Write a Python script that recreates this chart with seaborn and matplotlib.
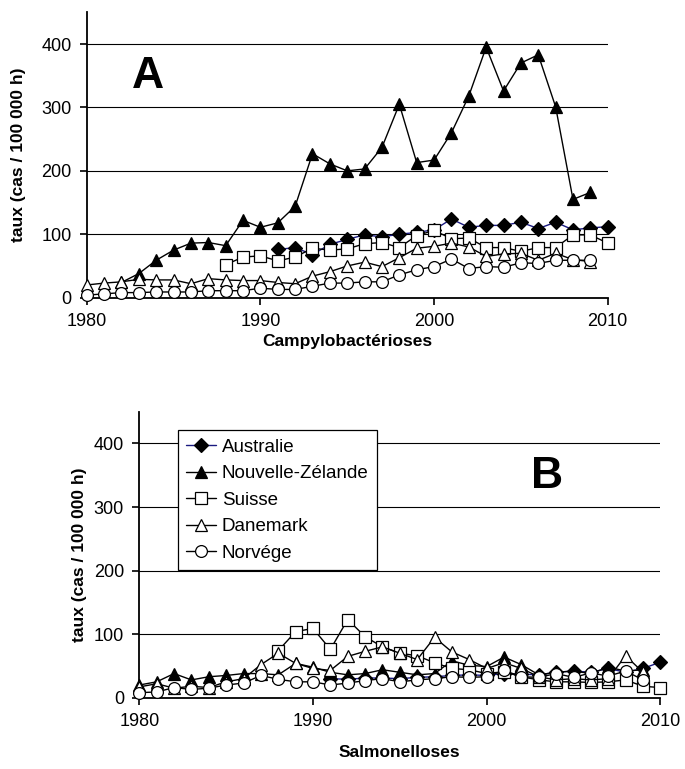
import numpy as np
import pandas as pd
import matplotlib
matplotlib.use("Agg")
import matplotlib.pyplot as plt
import seaborn as sns

# ---------------- data ----------------
countries = ["Australie", "Nouvelle-Zélande", "Suisse", "Danemark", "Norvége"]

# Campylobactérioses
camp_aus_years = list(range(1991, 2011))
camp_aus = [76, 79, 68, 84, 92, 99, 96, 100, 103, 107, 124, 111, 114, 114, 119, 109, 119, 107, 110, 112]
camp_nz_years = list(range(1982, 2010))
camp_nz = [24, 38, 59, 75, 86, 87, 82, 122, 111, 118, 144, 227, 211, 200, 203, 237, 305, 213, 217, 260,
           318, 395, 326, 370, 383, 301, 155, 166]
camp_sui_years = list(range(1988, 2011))
camp_sui = [52, 64, 66, 58, 64, 78, 75, 77, 85, 87, 79, 98, 106, 93, 94, 79, 79, 73, 79, 79, 99, 99, 86]
camp_dan_years = list(range(1980, 2010))
camp_dan = [20, 23, 25, 29, 28, 28, 22, 30, 28, 27, 27, 24, 22, 34, 41, 50, 56, 49, 63, 78, 81, 86, 80, 65,
            69, 70, 59, 70, 60, 57]
camp_nor_years = list(range(1980, 2010))
camp_nor = [4, 6, 8, 8, 9, 9, 9, 11, 11, 11, 15, 13, 13, 18, 23, 23, 25, 25, 36, 44, 49, 61, 46, 49, 48, 55,
            54, 59, 59, 59]

# Salmonelloses
salm_aus_years = list(range(1991, 2011))
salm_aus = [30, 29, 31, 31, 30, 32, 33, 35, 36, 35, 38, 37, 36, 40, 42, 40, 46, 40, 46, 56]
salm_nz_years = list(range(1980, 2010))
salm_nz = [20, 25, 38, 28, 33, 35, 38, 38, 36, 54, 48, 40, 36, 38, 44, 40, 36, 38, 58, 51, 49, 64, 52, 36,
           40, 42, 38, 48, 42, 44]
salm_sui_years = list(range(1988, 2011))
salm_sui = [74, 104, 109, 76, 123, 96, 80, 70, 66, 55, 46, 44, 38, 41, 33, 28, 25, 25, 24, 25, 28, 18, 16]
salm_dan_years = list(range(1980, 2010))
salm_dan = [17, 22, 15, 18, 16, 25, 30, 52, 70, 54, 46, 43, 65, 73, 80, 70, 60, 95, 72, 60, 46, 55, 46, 33,
            28, 30, 28, 30, 66, 40]
salm_nor_years = list(range(1980, 2010))
salm_nor = [8, 9, 16, 13, 15, 20, 23, 35, 29, 25, 25, 20, 23, 27, 30, 25, 28, 30, 33, 32, 33, 43, 33, 32,
            38, 32, 39, 34, 42, 28]

x_ticks = [1980, 1990, 2000, 2010]
y_ticks = [0, 100, 200, 300, 400]

# ---------------- style ----------------
sns.set_theme(style="white")
plt.rcParams["font.family"] = ["Liberation Sans", "DejaVu Sans"]
plt.rcParams["text.color"] = "black"
plt.rcParams["axes.labelcolor"] = "black"
plt.rcParams["xtick.color"] = "black"
plt.rcParams["ytick.color"] = "black"

styles = {
    "Australie": dict(marker="D", markersize=7, markerfacecolor="black", color="#1a1a80"),
    "Nouvelle-Zélande": dict(marker="^", markersize=8.5, markerfacecolor="black", color="black"),
    "Suisse": dict(marker="s", markersize=8, markerfacecolor="white", color="black"),
    "Danemark": dict(marker="^", markersize=8.5, markerfacecolor="white", color="black"),
    "Norvége": dict(marker="o", markersize=8.5, markerfacecolor="white", color="black"),
}

fig = plt.figure(figsize=(6.85, 7.69), dpi=100)
ax1 = fig.add_axes([0.1266, 0.6129, 0.7606, 0.3711])
ax2 = fig.add_axes([0.2034, 0.0927, 0.7606, 0.3719])


def draw(ax, series):
    for i, (name, yrs, vals) in enumerate(series):
        st = styles[name]
        sns.lineplot(x=yrs, y=vals, ax=ax, label=name, linewidth=1.0,
                     markeredgecolor="black", markeredgewidth=0.9,
                     clip_on=False, zorder=3 + i, **st)


draw(ax1, [("Australie", camp_aus_years, camp_aus),
           ("Nouvelle-Zélande", camp_nz_years, camp_nz),
           ("Suisse", camp_sui_years, camp_sui),
           ("Danemark", camp_dan_years, camp_dan),
           ("Norvége", camp_nor_years, camp_nor)])
draw(ax2, [("Australie", salm_aus_years, salm_aus),
           ("Nouvelle-Zélande", salm_nz_years, salm_nz),
           ("Suisse", salm_sui_years, salm_sui),
           ("Danemark", salm_dan_years, salm_dan),
           ("Norvége", salm_nor_years, salm_nor)])

for ax, xlabel, letter, lx, xpad, ypad in [(ax1, "Campylobactérioses", "A", 1983.5, 3, 11),
                                           (ax2, "Salmonelloses", "B", 2003.5, 11, 5)]:
    ax.set_xlim(1980, 2010)
    ax.set_ylim(0, 450)
    ax.set_xticks(x_ticks)
    ax.set_yticks(y_ticks)
    ax.yaxis.grid(True, color="black", linewidth=0.8)
    ax.xaxis.grid(False)
    ax.set_axisbelow(True)
    for s in ["top", "right"]:
        ax.spines[s].set_visible(False)
    for s in ["left", "bottom"]:
        ax.spines[s].set_color("black")
        ax.spines[s].set_linewidth(1.3)
    ax.tick_params(axis="both", direction="out", length=5, width=1.2, color="black",
                   labelsize=13, labelcolor="black", pad=6,
                   left=True, bottom=True)
    ax.set_xlabel(xlabel, fontsize=12.5, fontweight="bold", labelpad=xpad)
    ax.set_ylabel("taux (cas / 100 000 h)", fontsize=12.5, fontweight="bold", labelpad=ypad)
    ax.text(lx, 348, letter, fontsize=32, fontweight="bold", ha="center", va="center", color="black")
    if ax.get_legend() is not None:
        ax.get_legend().remove()

handles, labels = ax2.get_legend_handles_labels()
leg = ax2.legend(handles, labels, loc="upper left", bbox_to_anchor=(0.074, 0.935),
                 fontsize=13.5, frameon=True, fancybox=False, framealpha=1,
                 edgecolor="black", handlelength=1.6, handletextpad=0.3,
                 labelspacing=0.5, borderpad=0.45, borderaxespad=0)
leg.get_frame().set_linewidth(0.9)
leg.set_zorder(20)

fig.savefig("out.png", dpi=100)
